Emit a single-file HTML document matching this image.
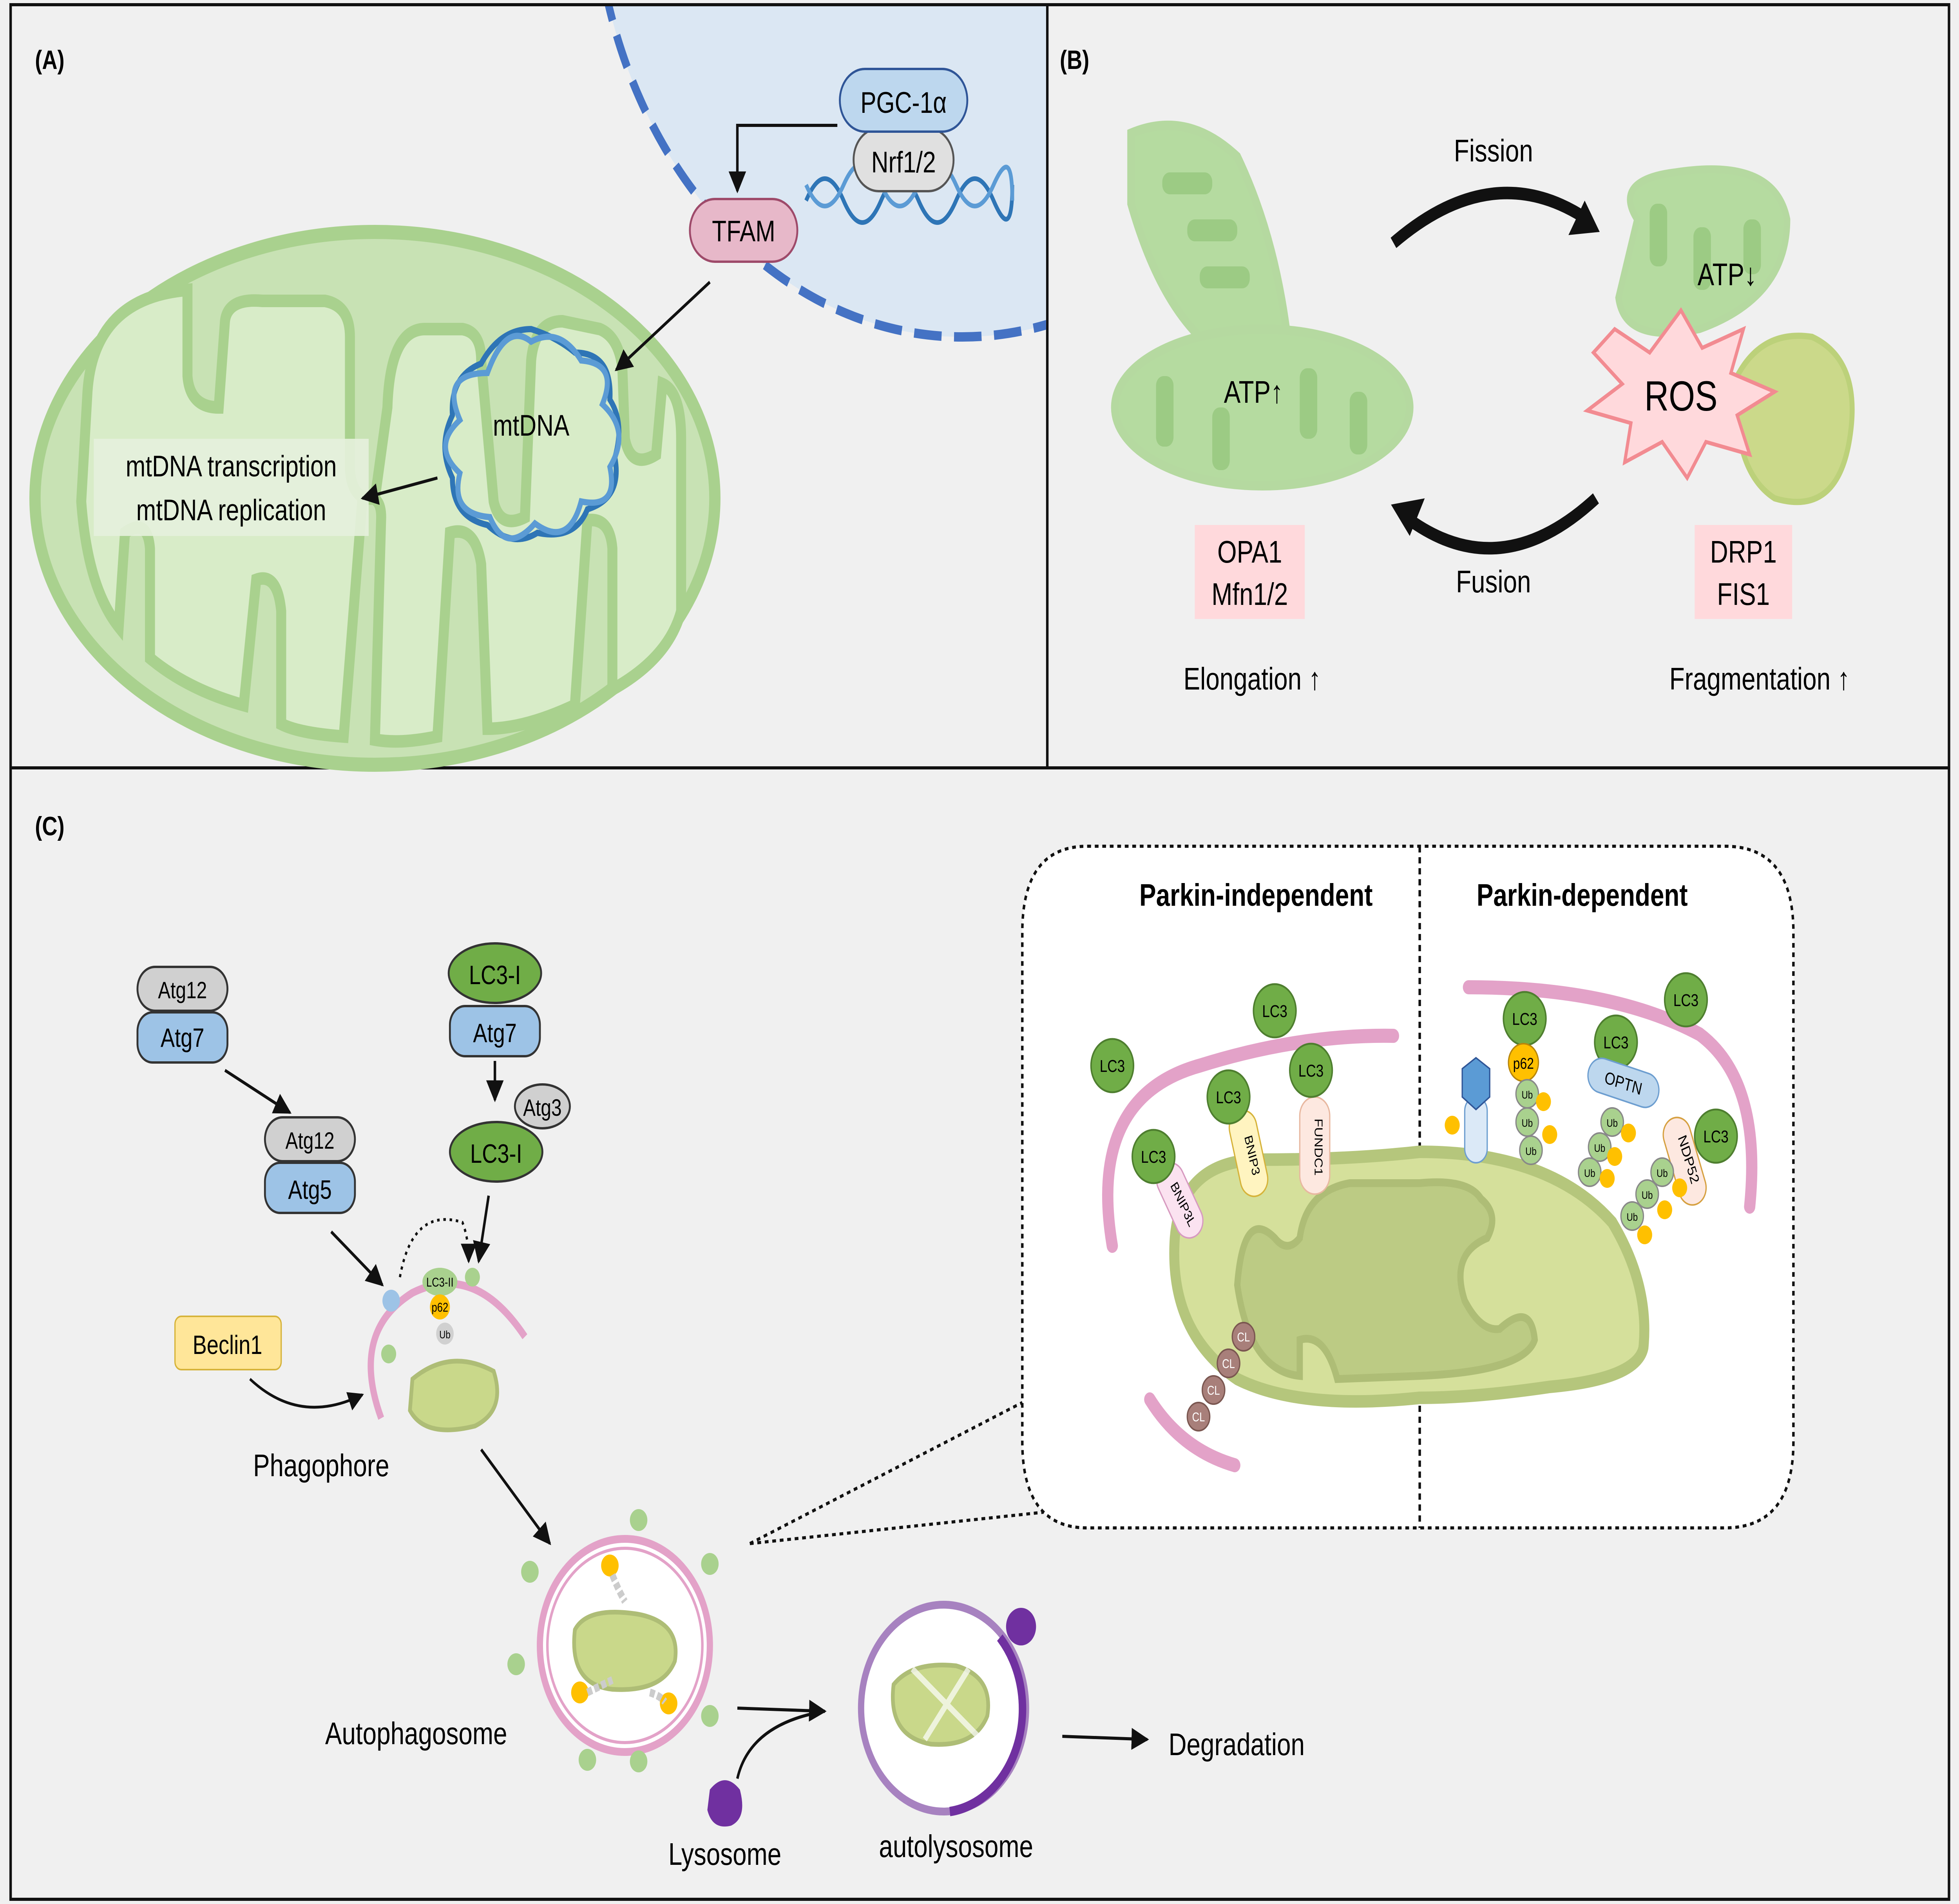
<!DOCTYPE html>
<html><head><meta charset="utf-8"><style>
html,body{margin:0;padding:0;background:#f0f0f0;width:100%;height:100%;overflow:hidden}
svg{display:block;width:100vw;height:100vh}
text{font-family:"Liberation Sans",Arial,sans-serif}
</style></head><body>
<svg xmlns="http://www.w3.org/2000/svg" viewBox="0 0 1567.5 1215" preserveAspectRatio="none">
<defs>
<marker id="ar" viewBox="0 0 10 10" refX="9" refY="5" markerWidth="7" markerHeight="7" orient="auto"><path d="M0,0L10,5L0,10z" fill="#111"/></marker>
<clipPath id="cA"><rect x="9" y="4" width="828" height="485"/></clipPath>
</defs>
<rect width="1567.5" height="1215" fill="#f0f0f0"/>
<rect x="8.5" y="3" width="1551" height="1209" fill="none" stroke="#111" stroke-width="2"/>
<line x1="838" y1="3" x2="838" y2="490" stroke="#111" stroke-width="2"/>
<line x1="8" y1="490" x2="1560" y2="490" stroke="#111" stroke-width="2"/>

<!-- PANEL A -->
<g clip-path="url(#cA)">
<circle cx="770" cy="-80" r="295" fill="#dbe7f3" stroke="#4472c4" stroke-width="6" stroke-dasharray="22,10"/>
</g>
<text x="28" y="44" font-size="17" font-weight="bold">(A)</text>
<ellipse cx="300" cy="318" rx="272" ry="170" fill="#c8e2b4" stroke="#a9d18e" stroke-width="9"/>
<path d="M70,250 Q75,190 150,185 L150,240 Q152,260 175,260 L180,205 Q182,190 210,192 L260,192 Q280,195 280,215 L280,300 Q282,320 300,318 L310,260 Q312,210 340,210 L370,210 Q385,212 385,230 L395,320 Q400,338 420,330 L425,230 Q428,205 450,205 L480,210 Q495,215 498,235 L500,280 Q505,300 525,290 L530,245 Q545,250 545,280 L545,390 Q535,420 490,440 L490,350 Q488,330 470,332 L460,450 Q420,465 390,465 L385,360 Q380,335 360,340 L350,470 Q320,475 300,472 L305,330 Q305,315 290,318 L275,470 Q240,468 225,462 L225,390 Q222,365 205,370 L195,450 Q150,440 120,420 L120,350 Q118,330 100,340 L95,400 Q70,375 65,320 Z" fill="#d8ecc8" stroke="#a9d18e" stroke-width="8"/>
<rect x="75" y="280" width="220" height="62" fill="#e6f1dd" opacity="0.9"/>
<text x="185" y="304" font-size="19" text-anchor="middle">mtDNA transcription</text>
<text x="185" y="332" font-size="19" text-anchor="middle">mtDNA replication</text>
<g fill="none" stroke-width="4">
<path d="M425,210 Q445,215 460,225 Q490,225 488,255 Q500,270 492,292 Q498,318 470,325 Q460,345 430,340 Q410,350 390,335 Q362,330 362,305 Q350,285 362,265 Q360,240 385,232 Q400,210 425,210Z" stroke="#2e75b6"/>
<path d="M425,218 Q448,208 465,230 Q495,232 482,258 Q505,275 488,298 Q495,325 465,320 Q455,350 428,334 Q405,355 392,330 Q360,328 368,302 Q345,285 368,268 Q352,238 390,238 Q405,205 425,218Z" stroke="#5b9bd5"/>
</g>
<text x="425" y="278" font-size="19" text-anchor="middle">mtDNA</text>
<line x1="568" y1="180" x2="493" y2="236" stroke="#111" stroke-width="2" marker-end="url(#ar)"/>
<line x1="350" y1="305" x2="290" y2="318" stroke="#111" stroke-width="2" marker-end="url(#ar)"/>
<path d="M670,80 L590,80 L590,122" fill="none" stroke="#111" stroke-width="2" marker-end="url(#ar)"/>
<g fill="none" stroke-width="3">
<path d="M645,128 Q660,100 675,128 T705,128 T735,128 T765,128 T795,128 T810,118" stroke="#2e75b6"/>
<path d="M645,118 Q660,145 675,118 T705,118 T735,118 T765,118 T795,118 T810,128" stroke="#5b9bd5"/>
</g>
<rect x="683" y="82" width="80" height="40" rx="20" fill="#e0e0e0" stroke="#555" stroke-width="1.5"/>
<text x="723" y="110" font-size="19" text-anchor="middle">Nrf1/2</text>
<rect x="672" y="44" width="102" height="40" rx="20" fill="#bdd7ee" stroke="#2f5597" stroke-width="1.5"/>
<text x="723" y="72" font-size="19" text-anchor="middle">PGC-1α</text>
<rect x="552" y="127" width="86" height="40" rx="20" fill="#e7b8c9" stroke="#9e4a6a" stroke-width="1.5"/>
<text x="595" y="154" font-size="19" text-anchor="middle">TFAM</text>

<!-- PANEL B -->
<text x="848" y="44" font-size="17" font-weight="bold">(B)</text>
<g stroke="#b5d9a0" stroke-width="6">
<path d="M905,85 Q950,70 990,100 Q1020,150 1030,215 L975,225 Q930,200 905,130 Z" fill="#b5dba0"/>
<ellipse cx="1010" cy="260" rx="118" ry="50" fill="#b5dba0"/>
</g>
<g fill="#9ccb84">
<rect x="930" y="110" width="40" height="14" rx="6"/><rect x="950" y="140" width="40" height="14" rx="6"/><rect x="960" y="170" width="40" height="14" rx="6"/>
<rect x="925" y="240" width="14" height="45" rx="6"/><rect x="970" y="260" width="14" height="40" rx="6"/><rect x="1040" y="235" width="14" height="45" rx="6"/><rect x="1080" y="250" width="14" height="40" rx="6"/>
</g>
<text x="1003" y="257" font-size="20" text-anchor="middle">ATP↑</text>
<path d="M1310,140 Q1290,115 1340,110 Q1420,100 1430,140 Q1430,190 1360,210 Q1300,220 1295,190 Z" fill="#b5dba0" stroke="#b5d9a0" stroke-width="5"/>
<g fill="#9ccb84"><rect x="1320" y="130" width="14" height="40" rx="6"/><rect x="1355" y="145" width="14" height="40" rx="6"/><rect x="1395" y="140" width="14" height="35" rx="6"/></g>
<text x="1382" y="182" font-size="20" text-anchor="middle">ATP↓</text>
<path d="M1390,240 Q1410,210 1450,215 Q1490,230 1480,280 Q1470,330 1420,318 Q1385,300 1390,240Z" fill="#cbd98a" stroke="#bcd17a" stroke-width="4"/>
<polygon points="1292,210 1320,225 1345,198 1362,222 1395,210 1385,238 1420,250 1390,265 1400,290 1365,282 1350,305 1330,282 1300,295 1305,270 1270,262 1298,245 1275,225" fill="#ffd9dc" stroke="#f28b91" stroke-width="2.5"/>
<text x="1345" y="262" font-size="27" text-anchor="middle">ROS</text>
<path d="M1115,155 Q1195,100 1270,140" fill="none" stroke="#111" stroke-width="8"/>
<polygon points="1280,148 1255,150 1268,128" fill="#111"/>
<path d="M1277,318 Q1200,375 1125,330" fill="none" stroke="#111" stroke-width="8"/>
<polygon points="1113,322 1140,318 1128,342" fill="#111"/>
<text x="1195" y="103" font-size="20" text-anchor="middle">Fission</text>
<text x="1195" y="378" font-size="20" text-anchor="middle">Fusion</text>
<rect x="956" y="335" width="88" height="60" fill="#ffd9dc"/>
<text x="1000" y="359" font-size="20" text-anchor="middle">OPA1</text>
<text x="1000" y="386" font-size="20" text-anchor="middle">Mfn1/2</text>
<rect x="1356" y="335" width="78" height="60" fill="#ffd9dc"/>
<text x="1395" y="359" font-size="20" text-anchor="middle">DRP1</text>
<text x="1395" y="386" font-size="20" text-anchor="middle">FIS1</text>
<text x="1002" y="440" font-size="20" text-anchor="middle">Elongation ↑</text>
<text x="1408" y="440" font-size="20" text-anchor="middle">Fragmentation ↑</text>

<!-- PANEL C -->
<text x="28" y="533" font-size="17" font-weight="bold">(C)</text>
<path d="M870,540 L1380,540 Q1435,540 1435,595 L1435,920 Q1435,975 1380,975 L870,975 Q818,975 818,920 L818,595 Q818,540 870,540Z" fill="#fff" stroke="#111" stroke-width="2" stroke-dasharray="3,3"/>
<line x1="1136" y1="540" x2="1136" y2="975" stroke="#111" stroke-width="2" stroke-dasharray="4,3"/>
<line x1="600" y1="985" x2="835" y2="965" stroke="#111" stroke-width="2" stroke-dasharray="3,3"/>
<line x1="600" y1="985" x2="818" y2="895" stroke="#111" stroke-width="2" stroke-dasharray="3,3"/>
<text x="1005" y="578" font-size="20" font-weight="bold" text-anchor="middle">Parkin-independent</text>
<text x="1266" y="578" font-size="20" font-weight="bold" text-anchor="middle">Parkin-dependent</text>
<path d="M940,790 Q945,740 1010,740 Q1080,740 1136,735 Q1240,735 1290,780 Q1320,820 1315,860 Q1310,880 1240,885 Q1180,892 1136,892 Q1040,900 990,880 Q935,850 940,790Z" fill="#d5e09b" stroke="#b5c67c" stroke-width="8"/>
<path d="M990,820 Q995,770 1020,790 Q1030,800 1040,790 Q1045,760 1080,755 L1136,755 Q1175,752 1185,765 Q1200,775 1190,790 Q1160,800 1172,830 Q1185,850 1200,848 Q1225,830 1228,855 Q1220,875 1136,878 L1070,880 Q1060,850 1040,855 L1040,878 Q1000,875 990,820Z" fill="#bccb84" stroke="#aebd76" stroke-width="5"/>
<path d="M890,795 Q870,700 960,680 Q1040,660 1115,661" fill="none" stroke="#e3a2c8" stroke-width="9" stroke-linecap="round"/>
<path d="M1175,630 Q1290,630 1360,660 Q1410,690 1400,770" fill="none" stroke="#e3a2c8" stroke-width="9" stroke-linecap="round"/>
<path d="M920,893 Q945,925 988,935" fill="none" stroke="#e3a2c8" stroke-width="9" stroke-linecap="round"/>
<g fill="#a87f7a" stroke="#7a5650"><circle cx="995" cy="853" r="9"/><circle cx="983" cy="870" r="9"/><circle cx="971" cy="887" r="9"/><circle cx="959" cy="904" r="9"/></g>
<g font-size="8" text-anchor="middle" fill="#fff"><text x="995" y="856">CL</text><text x="983" y="873">CL</text><text x="971" y="890">CL</text><text x="959" y="907">CL</text></g>
<rect x="933" y="740" width="22" height="52" rx="11" fill="#fbe2f0" stroke="#d79ac0" transform="rotate(-30 944 766)"/>
<rect x="988" y="708" width="22" height="56" rx="11" fill="#fff4c0" stroke="#d6b33a" transform="rotate(-15 999 736)"/>
<rect x="1040" y="700" width="24" height="62" rx="12" fill="#fde8e0" stroke="#e8b8a0"/>
<g font-size="9" text-anchor="middle">
<text transform="translate(944,770) rotate(60)">BNIP3L</text>
<text transform="translate(999,738) rotate(75)">BNIP3</text>
<text transform="translate(1052,732) rotate(90)">FUNDC1</text>
</g>
<g fill="#70ad47" stroke="#4e7e2f" stroke-width="1.2">
<circle cx="890" cy="680" r="17"/><circle cx="1020" cy="645" r="17"/><circle cx="923" cy="738" r="17"/><circle cx="983" cy="700" r="17"/><circle cx="1049" cy="683" r="17"/>
<circle cx="1220" cy="650" r="17"/><circle cx="1293" cy="665" r="17"/><circle cx="1349" cy="638" r="17"/><circle cx="1373" cy="725" r="17"/>
</g>
<g font-size="11" text-anchor="middle">
<text x="890" y="684">LC3</text><text x="1020" y="649">LC3</text><text x="923" y="742">LC3</text><text x="983" y="704">LC3</text><text x="1049" y="687">LC3</text>
<text x="1220" y="654">LC3</text><text x="1293" y="669">LC3</text><text x="1349" y="642">LC3</text><text x="1373" y="729">LC3</text>
</g>
<circle cx="1219" cy="678" r="12" fill="#ffc000" stroke="#b8860b"/><text x="1219" y="682" font-size="10" text-anchor="middle">p62</text>
<rect x="1270" y="680" width="58" height="22" rx="11" fill="#bdd7ee" stroke="#6d9ed0" transform="rotate(15 1299 691)"/><text x="1299" y="695" font-size="11" text-anchor="middle" transform="rotate(15 1299 691)">OPTN</text>
<rect x="1337" y="712" width="22" height="58" rx="11" fill="#fde8e0" stroke="#d6a040" transform="rotate(-20 1348 741)"/><text font-size="10" text-anchor="middle" transform="translate(1348,741) rotate(70)">NDP52</text>
<rect x="1172" y="700" width="18" height="42" rx="9" fill="#dbe9f7" stroke="#6d9ed0"/>
<polygon points="1181,675 1192,682 1192,700 1181,708 1170,700 1170,682" fill="#5b9bd5" stroke="#2f5597"/>
<g fill="#a9d18e" stroke="#888" stroke-width="1">
<circle cx="1222" cy="698" r="9"/><circle cx="1222" cy="716" r="9"/><circle cx="1225" cy="734" r="9"/>
<circle cx="1290" cy="716" r="9"/><circle cx="1280" cy="732" r="9"/><circle cx="1272" cy="748" r="9"/>
<circle cx="1330" cy="748" r="9"/><circle cx="1318" cy="762" r="9"/><circle cx="1306" cy="776" r="9"/>
</g>
<g fill="#ffc000">
<circle cx="1162" cy="718" r="6"/><circle cx="1235" cy="703" r="6"/><circle cx="1240" cy="724" r="6"/>
<circle cx="1303" cy="723" r="6"/><circle cx="1292" cy="738" r="6"/><circle cx="1286" cy="752" r="6"/>
<circle cx="1344" cy="758" r="6"/><circle cx="1332" cy="772" r="6"/><circle cx="1316" cy="788" r="6"/>
</g>
<g font-size="7" text-anchor="middle">
<text x="1222" y="701">Ub</text><text x="1222" y="719">Ub</text><text x="1225" y="737">Ub</text>
<text x="1290" y="719">Ub</text><text x="1280" y="735">Ub</text><text x="1272" y="751">Ub</text>
<text x="1330" y="751">Ub</text><text x="1318" y="765">Ub</text><text x="1306" y="779">Ub</text>
</g>

<rect x="110" y="617" width="72" height="28" rx="14" fill="#d0d0d0" stroke="#333" stroke-width="1.5"/><text x="146" y="637" font-size="15" text-anchor="middle">Atg12</text>
<rect x="110" y="646" width="72" height="32" rx="12" fill="#9dc3e6" stroke="#333" stroke-width="1.5"/><text x="146" y="668" font-size="17" text-anchor="middle">Atg7</text>
<rect x="212" y="713" width="72" height="28" rx="14" fill="#d0d0d0" stroke="#333" stroke-width="1.5"/><text x="248" y="733" font-size="15" text-anchor="middle">Atg12</text>
<rect x="212" y="742" width="72" height="32" rx="12" fill="#9dc3e6" stroke="#333" stroke-width="1.5"/><text x="248" y="765" font-size="17" text-anchor="middle">Atg5</text>
<ellipse cx="396" cy="621" rx="37" ry="19" fill="#70ad47" stroke="#333" stroke-width="1.5"/><text x="396" y="628" font-size="17" text-anchor="middle">LC3-I</text>
<rect x="360" y="642" width="72" height="32" rx="12" fill="#9dc3e6" stroke="#333" stroke-width="1.5"/><text x="396" y="665" font-size="17" text-anchor="middle">Atg7</text>
<ellipse cx="434" cy="706" rx="22" ry="14" fill="#d0d0d0" stroke="#333" stroke-width="1.5"/><text x="434" y="712" font-size="15" text-anchor="middle">Atg3</text>
<ellipse cx="397" cy="735" rx="37" ry="19" fill="#70ad47" stroke="#333" stroke-width="1.5"/><text x="397" y="742" font-size="17" text-anchor="middle">LC3-I</text>
<line x1="180" y1="683" x2="232" y2="710" stroke="#111" stroke-width="2" marker-end="url(#ar)"/>
<line x1="396" y1="677" x2="396" y2="702" stroke="#111" stroke-width="2" marker-end="url(#ar)"/>
<line x1="391" y1="763" x2="383" y2="805" stroke="#111" stroke-width="2" marker-end="url(#ar)"/>
<line x1="265" y1="786" x2="306" y2="820" stroke="#111" stroke-width="2" marker-end="url(#ar)"/>
<path d="M320,815 Q330,770 370,780 Q375,790 375,805" fill="none" stroke="#111" stroke-width="1.8" stroke-dasharray="2,3" marker-end="url(#ar)"/>
<rect x="140" y="840" width="85" height="34" rx="5" fill="#ffe699" stroke="#d6b33a"/><text x="182" y="864" font-size="17" text-anchor="middle">Beclin1</text>
<path d="M200,880 Q240,910 290,890" fill="none" stroke="#111" stroke-width="1.8" marker-end="url(#ar)"/>
<path d="M305,905 Q280,850 330,825 Q380,805 420,853" fill="none" stroke="#e3a2c8" stroke-width="5"/>
<circle cx="313" cy="830" r="7" fill="#9dc3e6"/><circle cx="311" cy="864" r="6" fill="#a9d18e"/><circle cx="378" cy="815" r="6" fill="#a9d18e"/>
<ellipse cx="352" cy="818" rx="14" ry="9" fill="#a9d18e"/><text x="352" y="821" font-size="8" text-anchor="middle">LC3-II</text>
<circle cx="352" cy="834" r="8" fill="#ffc000"/><text x="352" y="837" font-size="8" text-anchor="middle">p62</text>
<circle cx="356" cy="851" r="7" fill="#d0d0d0"/><text x="356" y="854" font-size="7" text-anchor="middle">Ub</text>
<path d="M330,880 Q360,860 395,875 Q405,900 380,910 Q340,918 328,900Z" fill="#c9d88a" stroke="#aebd76" stroke-width="3"/>
<text x="257" y="942" font-size="20" text-anchor="middle">Phagophore</text>
<line x1="385" y1="925" x2="440" y2="985" stroke="#111" stroke-width="2" marker-end="url(#ar)"/>
<circle cx="500" cy="1050" r="68" fill="#fff" stroke="#e3a2c8" stroke-width="5"/>
<circle cx="500" cy="1050" r="62" fill="none" stroke="#e3a2c8" stroke-width="2"/>
<path d="M460,1040 Q470,1025 510,1030 Q545,1035 540,1060 Q530,1080 490,1078 Q455,1075 460,1040Z" fill="#c9d88a" stroke="#aebd76" stroke-width="3"/>
<g fill="#a9d18e"><circle cx="511" cy="970" r="7"/><circle cx="568" cy="998" r="7"/><circle cx="424" cy="1003" r="7"/><circle cx="413" cy="1062" r="7"/><circle cx="470" cy="1123" r="7"/><circle cx="511" cy="1124" r="7"/><circle cx="568" cy="1095" r="7"/></g>
<g fill="#ffc000"><circle cx="488" cy="999" r="7"/><circle cx="464" cy="1080" r="7"/><circle cx="535" cy="1087" r="7"/></g>
<path d="M490,1005 Q495,1015 500,1022 M470,1080 L490,1072 M520,1080 Q528,1082 532,1086" stroke="#ccc" stroke-width="5" fill="none" stroke-dasharray="4,2"/>
<text x="333" y="1113" font-size="20" text-anchor="middle">Autophagosome</text>
<path d="M590,1090 L660,1092" stroke="#111" stroke-width="2" marker-end="url(#ar)"/>
<path d="M590,1135 Q600,1100 660,1092" fill="none" stroke="#111" stroke-width="2"/>
<path d="M568,1142 Q580,1130 592,1142 Q598,1160 585,1165 Q570,1168 566,1155Z" fill="#7030a0"/>
<text x="580" y="1190" font-size="20" text-anchor="middle">Lysosome</text>
<circle cx="755" cy="1090" r="66" fill="#fff" stroke="#a782c0" stroke-width="5"/>
<path d="M800,1045 A66,66 0 0 1 760,1156" fill="none" stroke="#7030a0" stroke-width="6"/>
<circle cx="817" cy="1038" r="12" fill="#7030a0"/>
<path d="M715,1075 Q730,1060 765,1063 Q795,1070 790,1095 Q780,1115 745,1113 Q710,1108 715,1075Z" fill="#c9d88a" stroke="#aebd76" stroke-width="3"/>
<path d="M730,1065 L785,1110 M740,1110 L775,1065" stroke="#fff" stroke-width="4" opacity="0.7"/>
<text x="765" y="1185" font-size="20" text-anchor="middle">autolysosome</text>
<line x1="850" y1="1108" x2="918" y2="1110" stroke="#111" stroke-width="2" marker-end="url(#ar)"/>
<text x="935" y="1120" font-size="20">Degradation</text>
</svg>
</body></html>
